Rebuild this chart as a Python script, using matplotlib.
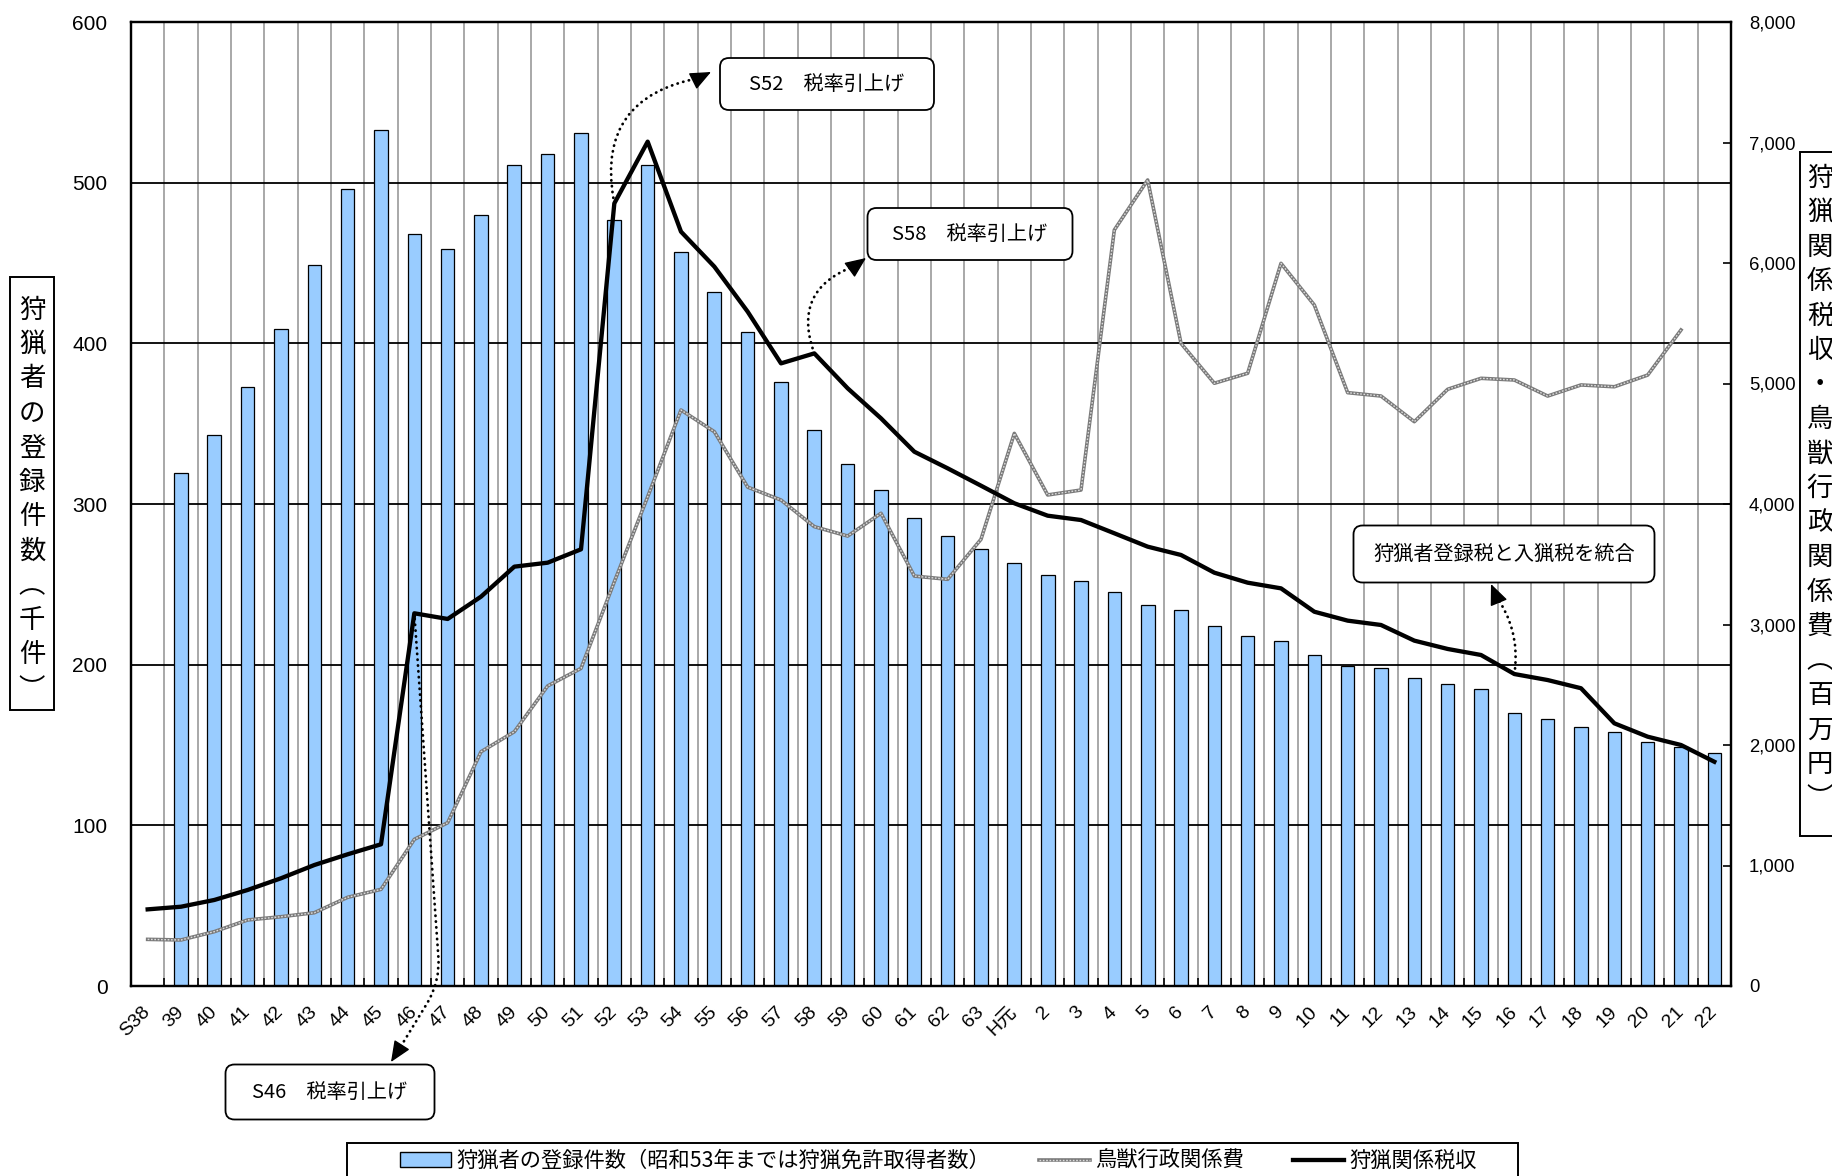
import numpy as np
import matplotlib.pyplot as plt
from matplotlib.patches import FancyBboxPatch, Rectangle, Patch
from matplotlib.legend_handler import HandlerTuple
from matplotlib.ticker import FuncFormatter
from matplotlib.transforms import IdentityTransform

plt.rcParams['font.family'] = ['Liberation Sans', 'Noto Sans CJK JP', 'DejaVu Sans']
JP = ['Noto Sans CJK JP', 'DejaVu Sans']

# --- データ ---
nendo = ['S38'] + [str(n) for n in range(39, 64)] + ['H元'] + [str(n) for n in range(2, 23)]

# 狩猟者の登録件数（千件）　S38は値なし
touroku = [np.nan, 319, 343, 373, 409, 449, 496, 533, 468, 459,
           480, 511, 518, 531, 477, 511, 457, 432, 407, 376,
           346, 325, 309, 291, 280, 272, 263, 256, 252, 245,
           237, 234, 224, 218, 215, 206, 199, 198, 192, 188,
           185, 170, 166, 161, 158, 152, 149, 145]

# 鳥獣行政関係費（百万円）　H22は値なし
gyosei = [387, 382, 451, 548, 575, 608, 736, 802, 1217, 1355,
          1944, 2110, 2490, 2636, 3355, 4060, 4780, 4600, 4140, 4033,
          3812, 3734, 3923, 3402, 3375, 3707, 4586, 4075, 4116, 6274,
          6689, 5333, 5002, 5085, 5997, 5651, 4924, 4896, 4683, 4952,
          5043, 5029, 4896, 4988, 4973, 5070, 5444, np.nan]

# 狩猟関係税収（百万円）
zeishu = [636, 658, 714, 797, 894, 1004, 1093, 1176, 3093, 3046,
          3231, 3480, 3513, 3624, 6495, 7007, 6260, 5970, 5596, 5167,
          5250, 4960, 4711, 4434, 4296, 4152, 4006, 3903, 3867, 3757,
          3646, 3577, 3430, 3347, 3300, 3106, 3032, 2996, 2866, 2797,
          2747, 2589, 2539, 2471, 2180, 2069, 2000, 1861]

W, H = 1832, 1176
fig = plt.figure(figsize=(W / 100, H / 100), dpi=100, facecolor='white')


def fx(px):
    return px / W


def fy(py):
    return 1 - py / H


ax = fig.add_axes([fx(131), fy(986), fx(1731) - fx(131), fy(22) - fy(986)])
ax2 = ax.twinx()
x = np.arange(len(nendo))

# 棒グラフ（左軸）
ax.bar(x, touroku, width=0.41, color='#99ccff', edgecolor='black', linewidth=0.9, zorder=2)
ax.set_xlim(-0.5, len(nendo) - 0.5)
ax.set_ylim(0, 600)
ax.set_yticks(range(0, 601, 100))
ax.set_xticks(x)
ax.set_xticks(np.arange(-0.5, len(nendo)), minor=True)
ax.set_xticklabels(nendo, rotation=45, ha='right', va='center', rotation_mode='anchor', fontsize=14)
ax.tick_params(axis='x', which='major', length=0, pad=17)
ax.tick_params(axis='x', which='minor', length=6, direction='in', width=1.2)
ax.tick_params(axis='y', length=0, pad=17, labelsize=15)
ax.grid(axis='x', which='minor', color='#999999', lw=1.2)
ax.grid(axis='y', which='major', color='black', lw=1.3)
ax.set_axisbelow(True)

# 折れ線（右軸）
g1, = ax2.plot(x, gyosei, color='#7a7a7a', lw=2.6, zorder=3)
g2, = ax2.plot(x, gyosei, color='#dcdcdc', lw=1.0, dashes=(1.2, 1.2), zorder=3.1)
k1, = ax2.plot(x, zeishu, color='black', lw=3.1, zorder=4, solid_joinstyle='round')
ax2.set_ylim(0, 8000)
ax2.set_yticks(range(0, 8001, 1000))
ax2.yaxis.set_major_formatter(FuncFormatter(lambda v, p: f'{v:,.0f}'))
ax2.tick_params(axis='y', direction='in', length=6, width=1.2, pad=13, labelsize=13.3)

for a in (ax, ax2):
    for s in a.spines.values():
        s.set_linewidth(1.6)


# 吹き出し
def callout(cx, cy, w, h, label):
    box = FancyBboxPatch((cx - w / 2, H - cy - h / 2), w, h,
                         boxstyle='round,pad=0,rounding_size=9',
                         transform=IdentityTransform(), facecolor='white',
                         edgecolor='black', lw=1.3, zorder=10)
    fig.add_artist(box)
    fig.text(fx(cx), fy(cy), label, ha='center', va='center', fontsize=14.5,
             family=JP, zorder=11)


# 点線の矢印：線は点線、矢じりは実線で別に描く
def yajirushi(i, head, back, conn):
    ax2.annotate('', xy=(fx(back[0]), fy(back[1])), xycoords='figure fraction',
                 xytext=(i, zeishu[i]), textcoords='data',
                 arrowprops=dict(arrowstyle='-', linestyle=(0, (0.1, 2.0)),
                                 capstyle='round', lw=2.0, color='black',
                                 shrinkA=4, shrinkB=0, connectionstyle=conn),
                 annotation_clip=False, zorder=9)
    ax2.annotate('', xy=(fx(head[0]), fy(head[1])), xycoords='figure fraction',
                 xytext=(fx(back[0]), fy(back[1])), textcoords='figure fraction',
                 arrowprops=dict(arrowstyle='-|>,head_length=0.65,head_width=0.28',
                                 lw=1.0, color='black', shrinkA=0, shrinkB=0,
                                 mutation_scale=20),
                 annotation_clip=False, zorder=9)


callout(827, 84, 214, 52, 'S52\u3000税率引上げ')
callout(970, 234, 205, 52, 'S58\u3000税率引上げ')
callout(330, 1092, 209, 55, 'S46\u3000税率引上げ')
callout(1504, 554, 301, 57, '狩猟者登録税と入猟税を統合')

yajirushi(14, (711, 72), (699, 78), 'arc3,rad=-0.5')
yajirushi(20, (866, 258), (855, 266), 'arc3,rad=-0.5')
yajirushi(8, (391, 1062), (398, 1051), 'angle,angleA=-86,angleB=58.6,rad=25')
yajirushi(41, (1491, 584), (1496, 596), 'arc3,rad=0.2')


# 縦書きの軸ラベル
def tategaki(text, x0, x1, y0, y1, cx, cy0, step):
    fig.add_artist(Rectangle((x0, H - y1), x1 - x0, y1 - y0, transform=IdentityTransform(),
                             facecolor='white', edgecolor='black', lw=1.4))
    for k, ch in enumerate(text):
        fig.text(fx(cx), fy(cy0 + k * step), ch, ha='center', va='center',
                 fontsize=19, family=JP)


tategaki('狩猟者の登録件数\ufe35千件\ufe36', 10, 54, 277, 710, 32, 310, 34.5)
tategaki('狩猟関係税収・鳥獣行政関係費\ufe35百万円\ufe36', 1800, 1870, 152, 836, 1820, 178, 34.5)

# 凡例（枠は別に描く）
fig.add_artist(Rectangle((347, -20), 1518 - 347, H - 1143 + 20, transform=IdentityTransform(),
                         facecolor='white', edgecolor='black', lw=1.4))
bar_h = Patch(facecolor='#99ccff', edgecolor='black', lw=1.0)
leg = fig.legend([bar_h, (g1, g2), k1],
                 ['狩猟者の登録件数（昭和53年までは狩猟免許取得者数）', '鳥獣行政関係費', '狩猟関係税収'],
                 handler_map={tuple: HandlerTuple(ndivide=1)},
                 loc='center left', bbox_to_anchor=(fx(400), fy(1161)), ncol=3,
                 frameon=False, borderaxespad=0, borderpad=0,
                 handlelength=2.4, handletextpad=0.25, columnspacing=2.3,
                 prop={'family': JP, 'size': 15.3})

fig.savefig('out.png', dpi=100)
